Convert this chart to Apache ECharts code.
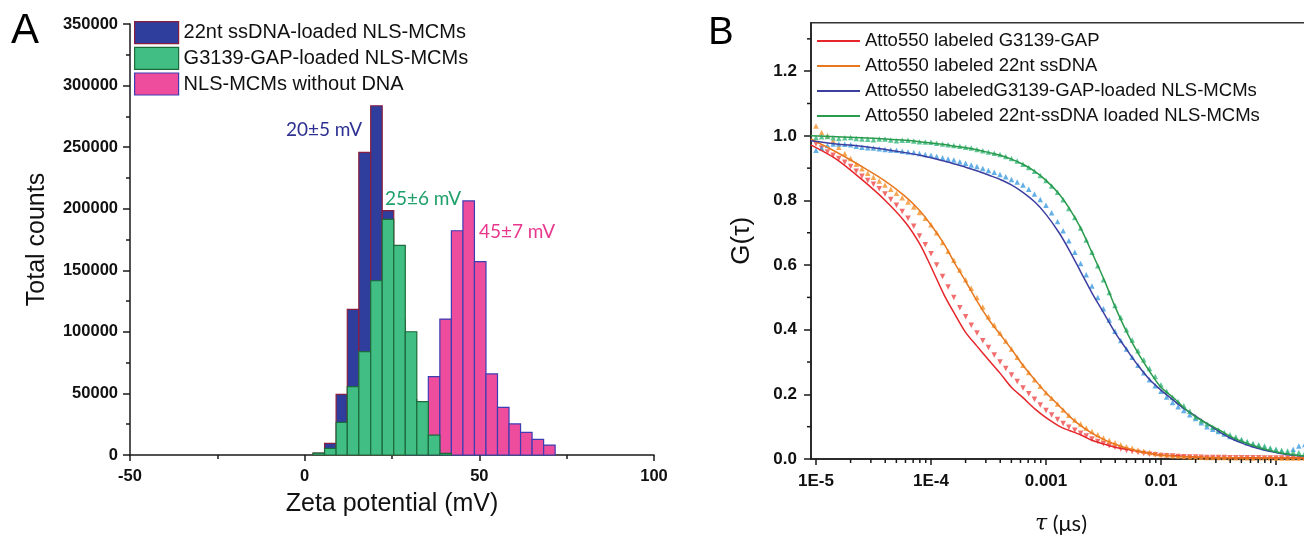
<!DOCTYPE html>
<html><head><meta charset="utf-8">
<script src="https://cdn.jsdelivr.net/npm/echarts@6/dist/echarts.min.js"></script>
<style>html,body{margin:0;padding:0;background:#fff}#c{width:1304px;height:537px}</style>
</head><body><div id="c"></div>
<script>
// ---------- Panel A: zeta potential histograms ----------
const binEdges = [2.4, 5.7, 9.0, 12.2, 15.5, 18.9, 22.2, 25.5, 28.8, 32.1, 35.4, 38.7, 42.0, 45.3, 48.6, 51.9, 55.2, 58.5, 61.8, 65.1, 68.4, 71.7];
const countsSsDNA = [1500, 9500, 49300, 118300, 245800, 283600, 198400, 110000, 45000, 12000, 3000, 0, 0, 0, 0, 0, 0, 0, 0, 0, 0];
const countsG3139 = [1500, 5400, 26500, 55500, 83900, 141500, 191400, 170300, 100100, 43300, 16200, 1300, 0, 0, 0, 0, 0, 0, 0, 0, 0];
const countsNoDNA = [0, 0, 0, 0, 0, 0, 0, 0, 5000, 22000, 63600, 110400, 182100, 206300, 157000, 65800, 38700, 25200, 18400, 12700, 8100];
const namesA = ['22nt ssDNA-loaded NLS-MCMs', 'G3139-GAP-loaded NLS-MCMs', 'NLS-MCMs without DNA'];
const zetaTicks = [-50, 0, 50, 100];
const annotA = [
  {text: '20±5 mV', x: 324, y: 130, color: '#2E3192'},
  {text: '25±6 mV', x: 423, y: 199, color: '#1FA06A'},
  {text: '45±7 mV', x: 517, y: 232, color: '#E8388E'}
];

// ---------- Panel B: FCS autocorrelation ----------
const tauData = [1e-5, 1.12e-5, 1.26e-5, 1.41e-5, 1.58e-5, 1.78e-5, 2e-5, 2.24e-5, 2.51e-5, 2.82e-5,
  3.16e-5, 3.55e-5, 3.98e-5, 4.47e-5, 5.01e-5, 5.62e-5, 6.31e-5, 7.08e-5, 7.94e-5, 8.91e-5,
  1e-4, 1.12e-4, 1.26e-4, 1.41e-4, 1.58e-4, 1.78e-4, 2e-4, 2.24e-4, 2.51e-4, 2.82e-4,
  3.16e-4, 3.55e-4, 3.98e-4, 4.47e-4, 5.01e-4, 5.62e-4, 6.31e-4, 7.08e-4, 7.94e-4, 8.91e-4,
  1e-3, 1.12e-3, 1.26e-3, 1.41e-3, 1.58e-3, 1.78e-3, 2e-3, 2.24e-3, 2.51e-3, 2.82e-3,
  3.16e-3, 3.55e-3, 3.98e-3, 4.47e-3, 5.01e-3, 5.62e-3, 6.31e-3, 7.08e-3, 7.94e-3, 8.91e-3,
  0.01, 0.0112, 0.0126, 0.0141, 0.0158, 0.0178, 0.02, 0.0224, 0.0251, 0.0282,
  0.0316, 0.0355, 0.0398, 0.0447, 0.0501, 0.0562, 0.0631, 0.0708, 0.0794, 0.0891,
  0.1, 0.112, 0.126, 0.141, 0.158, 0.178, 0.2];
const dataRed = [0.975, 0.962, 0.95, 0.94, 0.93, 0.918, 0.905, 0.89, 0.875, 0.862,
  0.85, 0.836, 0.82, 0.803, 0.785, 0.766, 0.745, 0.72, 0.69, 0.663,
  0.635, 0.60, 0.565, 0.532, 0.50, 0.468, 0.44, 0.414, 0.39, 0.366,
  0.345, 0.322, 0.30, 0.28, 0.26, 0.24, 0.22, 0.202, 0.185, 0.167,
  0.15, 0.136, 0.122, 0.11, 0.098, 0.089, 0.08, 0.071, 0.062, 0.054,
  0.047, 0.041, 0.036, 0.031, 0.026, 0.023, 0.02, 0.017, 0.015, 0.013,
  0.011, 0.01, 0.009, 0.008, 0.007, 0.0065, 0.006, 0.0055, 0.005, 0.005,
  0.005, 0.0045, 0.004, 0.004, 0.004, 0.004, 0.004, 0.0035, 0.003, 0.003,
  0.003, 0.003, 0.003, 0.003, 0.003, 0.003, 0.003];
const dataOrange = [1.03, 1.01, 1.0, 0.985, 0.965, 0.945, 0.93, 0.912, 0.898, 0.884,
  0.872, 0.86, 0.848, 0.835, 0.822, 0.808, 0.795, 0.78, 0.763, 0.745,
  0.725, 0.70, 0.67, 0.643, 0.615, 0.585, 0.555, 0.528, 0.50, 0.47,
  0.44, 0.415, 0.39, 0.365, 0.34, 0.315, 0.29, 0.268, 0.245, 0.225,
  0.205, 0.188, 0.17, 0.152, 0.135, 0.121, 0.108, 0.096, 0.085, 0.075,
  0.065, 0.057, 0.05, 0.044, 0.038, 0.033, 0.028, 0.024, 0.02, 0.017,
  0.014, 0.012, 0.01, 0.009, 0.008, 0.007, 0.006, 0.0055, 0.005, 0.005,
  0.005, 0.0045, 0.004, 0.004, 0.004, 0.0035, 0.003, 0.0035, 0.004, 0.0035,
  0.003, 0.003, 0.003, 0.003, 0.003, 0.003, 0.003];
const dataBlue = [0.955, 0.962, 0.97, 0.975, 0.975, 0.974, 0.972, 0.968, 0.965, 0.963,
  0.962, 0.96, 0.958, 0.956, 0.955, 0.952, 0.95, 0.948, 0.945, 0.942,
  0.94, 0.936, 0.932, 0.928, 0.925, 0.92, 0.915, 0.91, 0.905, 0.899,
  0.893, 0.887, 0.88, 0.873, 0.865, 0.857, 0.848, 0.835, 0.82, 0.803,
  0.785, 0.762, 0.735, 0.706, 0.675, 0.64, 0.605, 0.57, 0.535, 0.50,
  0.465, 0.43, 0.395, 0.367, 0.34, 0.315, 0.29, 0.267, 0.245, 0.227,
  0.21, 0.192, 0.175, 0.162, 0.15, 0.137, 0.125, 0.112, 0.1, 0.092,
  0.085, 0.077, 0.07, 0.064, 0.058, 0.05, 0.045, 0.04, 0.035, 0.032,
  0.028, 0.024, 0.02, 0.03, 0.04, 0.045, 0.035];
const dataGreen = [0.995, 0.997, 0.998, 0.994, 0.992, 0.994, 0.995, 0.992, 0.99, 0.989,
  0.988, 0.99, 0.99, 0.987, 0.985, 0.986, 0.986, 0.984, 0.982, 0.981,
  0.98, 0.977, 0.975, 0.972, 0.97, 0.968, 0.965, 0.962, 0.958, 0.954,
  0.95, 0.946, 0.942, 0.936, 0.93, 0.922, 0.912, 0.902, 0.89, 0.877,
  0.862, 0.845, 0.825, 0.802, 0.775, 0.747, 0.715, 0.678, 0.64, 0.598,
  0.555, 0.515, 0.475, 0.438, 0.40, 0.368, 0.335, 0.307, 0.28, 0.255,
  0.23, 0.21, 0.19, 0.178, 0.165, 0.148, 0.13, 0.118, 0.108, 0.098,
  0.09, 0.082, 0.075, 0.068, 0.06, 0.054, 0.048, 0.044, 0.04, 0.034,
  0.03, 0.027, 0.025, 0.022, 0.02, 0.019, 0.018];
const tauFit = [9e-6, 1.5e-5, 2.5e-5, 4e-5, 6e-5, 8e-5, 1e-4, 1.3e-4, 1.6e-4, 2e-4,
  2.5e-4, 3.2e-4, 4e-4, 5e-4, 6.3e-4, 8e-4, 1e-3, 1.3e-3, 1.6e-3, 2e-3,
  2.5e-3, 3.2e-3, 4e-3, 5e-3, 6.3e-3, 8e-3, 1e-2, 1.3e-2, 1.6e-2, 2e-2,
  2.5e-2, 3.2e-2, 4e-2, 5e-2, 6.3e-2, 8e-2, 0.1, 0.13, 0.16, 0.2];
const fitRed = [0.972, 0.928, 0.865, 0.80, 0.732, 0.665, 0.595, 0.508, 0.45, 0.392,
  0.35, 0.305, 0.265, 0.222, 0.19, 0.155, 0.128, 0.102, 0.088, 0.075,
  0.058, 0.046, 0.036, 0.030, 0.024, 0.018, 0.012, 0.010, 0.008, 0.006,
  0.005, 0.005, 0.004, 0.004, 0.004, 0.003, 0.003, 0.003, 0.003, 0.003];
const fitOrange = [0.99, 0.95, 0.905, 0.86, 0.812, 0.768, 0.724, 0.665, 0.607, 0.55,
  0.49, 0.43, 0.385, 0.34, 0.29, 0.245, 0.205, 0.165, 0.132, 0.103,
  0.08, 0.06, 0.046, 0.034, 0.025, 0.018, 0.012, 0.009, 0.007, 0.006,
  0.005, 0.004, 0.004, 0.003, 0.003, 0.003, 0.003, 0.003, 0.003, 0.003];
const fitBlue = [0.985, 0.975, 0.968, 0.958, 0.948, 0.94, 0.932, 0.922, 0.913, 0.903,
  0.892, 0.878, 0.865, 0.848, 0.825, 0.795, 0.757, 0.70, 0.645, 0.58,
  0.515, 0.45, 0.39, 0.34, 0.29, 0.245, 0.213, 0.18, 0.155, 0.133,
  0.11, 0.085, 0.065, 0.05, 0.037, 0.027, 0.02, 0.013, 0.01, 0.008];
const fitGreen = [1.0, 0.997, 0.994, 0.99, 0.986, 0.982, 0.978, 0.973, 0.968, 0.963,
  0.957, 0.948, 0.94, 0.928, 0.912, 0.89, 0.862, 0.82, 0.775, 0.715,
  0.64, 0.555, 0.47, 0.395, 0.328, 0.27, 0.222, 0.188, 0.157, 0.13,
  0.11, 0.09, 0.07, 0.055, 0.042, 0.03, 0.022, 0.015, 0.011, 0.008];
const namesB = ['Atto550 labeled G3139-GAP', 'Atto550 labeled 22nt ssDNA',
  'Atto550 labeledG3139-GAP-loaded NLS-MCMs', 'Atto550 labeled 22nt-ssDNA loaded NLS-MCMs'];
const tauLabels = {'-5': '1E-5', '-4': '1E-4', '-3': '0.001', '-2': '0.01', '-1': '0.1', '0': '1'};

// ---------- styling ----------
const LS = '"Liberation Sans", Arial, Helvetica, sans-serif';
const AX = '#1a1a1a';
const colA = [
  {fill: '#2F3E9C', stroke: '#8A1E3E'},
  {fill: '#40BE84', stroke: '#1D6A3B'},
  {fill: '#EE4C9C', stroke: '#3D3DB2'}
];
const colB = {
  line: ['#E5262B', '#E8781F', '#3D3FA0', '#2A9A4C'],
  dots: ['#EF4A4A', '#F5922A', '#3C9BE0', '#36B67C']
};
const xMinB = 9.05e-6;

function histData(counts) {
  return counts.map((c, i) => [binEdges[i], binEdges[i + 1], c]);
}
function histItem(fill, stroke) {
  return function (params, api) {
    const v = api.value(2);
    if (!v) return null;
    const p0 = api.coord([api.value(0), v]);
    const p1 = api.coord([api.value(1), 0]);
    return {type: 'rect', shape: {x: p0[0], y: p0[1], width: p1[0] - p0[0], height: p1[1] - p0[1]},
      style: {fill: fill, stroke: stroke, lineWidth: 1.2}};
  };
}
// log-axis minor tick positions (axis decoration)
const minorX = [];
for (let e = -5; e <= -1; e++) for (let m = 2; m <= 9; m++) minorX.push(m * Math.pow(10, e));
const minorY = [0.1, 0.3, 0.5, 0.7, 0.9, 1.1, 1.3];

const labelStyle = {fontFamily: LS, fontWeight: 'bold', fontSize: 16.5, color: '#111'};

const series = [];
series.push({type: 'custom', name: namesA[0], xAxisIndex: 0, yAxisIndex: 0, renderItem: histItem(colA[0].fill, colA[0].stroke),
  itemStyle: {color: colA[0].fill}, encode: {x: [0, 1], y: 2}, data: histData(countsSsDNA)});
series.push({type: 'custom', name: namesA[2], xAxisIndex: 0, yAxisIndex: 0, renderItem: histItem(colA[2].fill, colA[2].stroke),
  itemStyle: {color: colA[2].fill}, encode: {x: [0, 1], y: 2}, data: histData(countsNoDNA)});
series.push({type: 'custom', name: namesA[1], xAxisIndex: 0, yAxisIndex: 0, renderItem: histItem(colA[1].fill, colA[1].stroke),
  itemStyle: {color: colA[1].fill}, encode: {x: [0, 1], y: 2}, data: histData(countsG3139)});

const dotSets = [dataRed, dataOrange, dataBlue, dataGreen];
dotSets.forEach((arr, i) => {
  series.push({type: 'scatter', name: 'pts' + i, xAxisIndex: 1, yAxisIndex: 1, symbol: 'triangle',
    symbolSize: 5.5, symbolRotate: i === 0 ? 180 : 0, itemStyle: {color: colB.dots[i]},
    data: tauData.map((t, k) => [t, arr[k]]), z: 2});
});
const fitSets = [fitRed, fitOrange, fitBlue, fitGreen];
fitSets.forEach((arr, i) => {
  series.push({type: 'line', name: namesB[i], xAxisIndex: 1, yAxisIndex: 1, symbol: 'none', showSymbol: false, smooth: 0.3,
    lineStyle: {color: colB.line[i], width: 1.5}, itemStyle: {color: colB.line[i]},
    data: tauFit.map((t, k) => [t, arr[k]]), z: 3});
});
series.push({type: 'custom', xAxisIndex: 1, yAxisIndex: 1, silent: true, clip: false, z: 5,
  data: minorX.map(v => [v, 0]),
  renderItem: (p, api) => { const c = api.coord([api.value(0), 0]);
    return {type: 'line', shape: {x1: c[0], y1: c[1], x2: c[0], y2: c[1] + 4}, style: {stroke: AX, lineWidth: 1.5}}; }});
series.push({type: 'custom', xAxisIndex: 1, yAxisIndex: 1, silent: true, clip: false, z: 5,
  data: minorY.map(v => [xMinB, v]),
  renderItem: (p, api) => { const c = api.coord([xMinB, api.value(1)]);
    return {type: 'line', shape: {x1: c[0] - 4, y1: c[1], x2: c[0], y2: c[1]}, style: {stroke: AX, lineWidth: 1.5}}; }});

const graphics = [
  {type: 'text', x: 25, y: 31, style: {text: 'A', font: '42px ' + LS, fill: '#000', textAlign: 'center', textVerticalAlign: 'middle', verticalAlign: 'middle'}},
  {type: 'text', x: 721, y: 34, style: {text: 'B', font: '38px ' + LS, fill: '#000', textAlign: 'center', textVerticalAlign: 'middle', verticalAlign: 'middle'}},
  {type: 'text', x: 1061, y: 524, style: {text: '{i|τ} (μs)', font: '22px Lato, "Open Sans", sans-serif', fill: '#111', textAlign: 'center', textVerticalAlign: 'middle', verticalAlign: 'middle',
    rich: {i: {fontStyle: 'italic', fontFamily: '"DejaVu Serif", "Liberation Serif", serif', fontSize: 22, fill: '#111'}}}}
];
annotA.forEach(a => graphics.push({type: 'text', x: a.x, y: a.y,
  style: {text: a.text, font: '19px Lato, "Open Sans", sans-serif', fill: a.color, textAlign: 'center', textVerticalAlign: 'middle', verticalAlign: 'middle'}}));

const axisLineCommon = {show: true, onZero: false, lineStyle: {color: AX, width: 1.5}};
const option = {
  animation: false,
  backgroundColor: '#fff',
  grid: [
    {left: 130, top: 24, width: 524, height: 431, outerBoundsMode: 'none', containLabel: false},
    {left: 811, top: 22.7, width: 580, height: 436.3, show: true, borderColor: '#333', borderWidth: 1.5, outerBoundsMode: 'none', containLabel: false}
  ],
  xAxis: [
    {gridIndex: 0, type: 'value', min: zetaTicks[0], max: zetaTicks[zetaTicks.length - 1], interval: 50,
      axisLine: axisLineCommon, axisTick: {show: true, length: 6, lineStyle: {color: AX, width: 1.5}},
      minorTick: {show: true, splitNumber: 2, length: 4, lineStyle: {color: AX, width: 1.5}},
      splitLine: {show: false}, minorSplitLine: {show: false},
      axisLabel: Object.assign({margin: 13, formatter: v => String(v)}, labelStyle),
      name: 'Zeta potential (mV)', nameLocation: 'middle', nameGap: 37,
      nameTextStyle: {fontFamily: LS, fontSize: 25, color: '#111'}},
    {gridIndex: 1, type: 'log', logBase: 10, min: xMinB, max: 1, splitNumber: 6,
      axisLine: axisLineCommon, axisTick: {show: true, length: 6, lineStyle: {color: AX, width: 1.5}},
      splitLine: {show: false}, minorTick: {show: false},
      axisLabel: Object.assign({margin: 14, showMinLabel: false, formatter: v => {
        const l = Math.log10(v); const e = Math.round(l);
        if (Math.abs(l - e) > 1e-6) return '';
        return tauLabels[String(e)] || '';
      }}, labelStyle, {fontSize: 17})}
  ],
  yAxis: [
    {gridIndex: 0, type: 'value', min: 0, max: 350000, interval: 50000,
      axisLine: axisLineCommon, axisTick: {show: true, length: 7, lineStyle: {color: AX, width: 1.5}},
      minorTick: {show: true, splitNumber: 2, length: 4, lineStyle: {color: AX, width: 1.5}},
      splitLine: {show: false}, minorSplitLine: {show: false},
      axisLabel: Object.assign({margin: 12, formatter: v => String(v)}, labelStyle),
      name: 'Total counts', nameLocation: 'middle', nameGap: 80,
      nameTextStyle: {fontFamily: LS, fontSize: 25, color: '#111'}},
    {gridIndex: 1, type: 'value', min: 0, max: 1.35, interval: 0.2,
      axisLine: axisLineCommon, axisTick: {show: true, length: 7, lineStyle: {color: AX, width: 1.5}},
      splitLine: {show: false}, minorTick: {show: false},
      axisLabel: Object.assign({margin: 14, showMaxLabel: false, formatter: v => (Math.abs(v / 0.2 - Math.round(v / 0.2)) < 1e-6 ? v.toFixed(1) : '')}, labelStyle, {fontSize: 17}),
      name: 'G(τ)', nameLocation: 'middle', nameGap: 56,
      nameTextStyle: {fontFamily: LS, fontSize: 26, color: '#111'}}
  ],
  legend: [
    {orient: 'vertical', left: 129, top: 16, itemWidth: 44, itemHeight: 22, itemGap: 2.5, selectedMode: false,
      textStyle: {fontFamily: LS, fontSize: 20, color: '#111', lineHeight: 22},
      data: [0, 1, 2].map(i => ({name: namesA[i], icon: 'rect', itemStyle: {color: colA[i].fill, borderColor: colA[i].stroke, borderWidth: 1.2}}))},
    {orient: 'vertical', left: 812, top: 26, itemWidth: 43, itemHeight: 2, itemGap: 5, selectedMode: false,
      textStyle: {fontFamily: LS, fontSize: 18.5, color: '#111', lineHeight: 20},
      data: namesB.map((n, i) => ({name: n, icon: 'rect', itemStyle: {color: colB.line[i], borderWidth: 0}}))}
  ],
  graphic: graphics,
  series: series
};
const chart = echarts.init(document.getElementById('c'));
chart.setOption(option);
</script>
</body></html>
